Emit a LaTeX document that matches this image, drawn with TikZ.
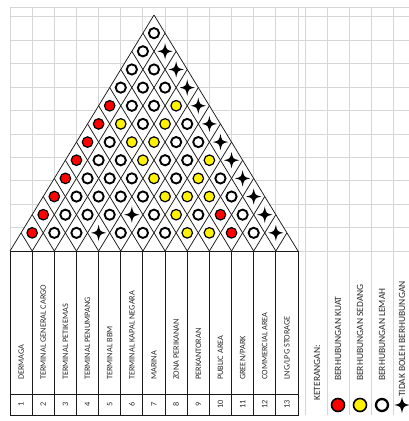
\documentclass[tikz,border=0pt]{standalone}
\usepackage{fontspec}
\setmainfont{Carlito}
\usepackage{xcolor}
\definecolor{cLine}{HTML}{1A1A1A}
\definecolor{cGrid}{HTML}{D6D6D6}
\definecolor{cText}{HTML}{2A2A2A}
\definecolor{cKuat}{HTML}{FF0000}
\definecolor{cSedang}{HTML}{FFF200}
\usepackage{tikz}
\usetikzlibrary{calc}
\tikzset{
  grid-line/.style={draw=cGrid,line width=0.9pt},
  table-line/.style={draw=cLine,line width=0.9pt},
  diag-line/.style={draw=cLine,line width=0.75pt},
  node-label/.style={rotate=90,anchor=west,inner sep=0pt,text=cText,
    font=\fontsize{8.3}{9}\selectfont,text height=5.4pt,text depth=0pt},
  node-legend/.style={node-label,font=\fontsize{9.5}{10}\selectfont,text height=6pt},
  node-num/.style={rotate=90,inner sep=0pt,text=cText,font=\fontsize{8.3}{9}\selectfont},
  % k = kuat, s = sedang, l = lemah, t = tidak boleh
  rel-k/.style={circle,draw=black,line width=1.2pt,fill=cKuat,
    minimum size=10.5pt,inner sep=0pt},
  rel-s/.style={rel-k,fill=cSedang},
  rel-l/.style={rel-k,fill=white,line width=1.9pt,minimum size=10.2pt},
  star4/.style={rectangle,minimum size=22pt,inner sep=0pt,
    path picture={\fill[black,shift={(path picture bounding box.center)},scale=#1]
      (0pt,8.2pt) .. controls (1.4pt,1.4pt) .. (7.6pt,0pt)
      .. controls (1.4pt,-1.4pt) .. (0pt,-8.2pt)
      .. controls (-1.4pt,-1.4pt) .. (-7.6pt,0pt)
      .. controls (-1.4pt,1.4pt) .. cycle;}},
  rel-t/.style={star4=1},
  leg-k/.style={rel-k,minimum size=13pt,line width=1.6pt},
  leg-s/.style={rel-s,minimum size=13pt,line width=1.6pt},
  leg-l/.style={rel-l,minimum size=12pt,line width=2.3pt},
  leg-t/.style={star4=1.2},
}

\begin{document}
\begin{tikzpicture}[x=1pt,y=-1pt]
  \useasboundingbox (0,0) rectangle (409,421);

  % sheet grid
  \draw[grid-line] (10,7.3) -- (409,7.3);
  \foreach \n in {0,...,10}
    \draw[grid-line] (10,{16.7+23.45*\n}) -- (409,{16.7+23.45*\n});
  \foreach \c in {0,...,13}
    \draw[grid-line] ({10+22.154*\c},7.3) -- ({10+22.154*\c},251);
  \foreach \gx in {305,327,349,371.5,393}
    \draw[grid-line] (\gx,7.3) -- (\gx,415);

  % matrix triangle
  \fill[white] (10,251) -- (154,15) -- (298,251) -- cycle;
  \foreach \c in {0,...,12}
    \draw[diag-line] ({10+22.154*\c},251) -- ({10+22.154*(\c+13)/2},{251-18.154*(13-\c)});
  \foreach \c in {1,...,13}
    \draw[diag-line] ({10+22.154*\c},251) -- ({10+22.154*\c/2},{251-18.154*\c});

  \foreach \k/\row in {1/{k,l,l,t,l,l,l,s,s,k,l,t},
                       2/{k,l,l,l,t,l,s,l,k,l,t},
                       3/{k,l,l,l,l,s,s,s,l,t},
                       4/{k,l,l,l,s,l,s,l,t},
                       5/{k,l,l,s,l,l,s,t},
                       6/{k,l,s,s,l,l,t},
                       7/{k,s,l,s,l,t},
                       8/{k,l,l,s,t},
                       9/{l,l,l,t},
                       10/{l,l,t},
                       11/{l,t},
                       12/{l}}
    \foreach \s [count=\i, evaluate=\i as \j using int(\i+\k)] in \row
      \node[rel-\s] (p-\i-\j) at ({10+22.154*(\i-0.5+\k/2)},{251-18.154*\k}) {};

  % table
  \draw[table-line] (10,251) rectangle (298,415);
  \draw[table-line] (10,394) -- (298,394);
  \foreach \c in {1,...,12}
    \draw[table-line] ({10+22.154*\c},251) -- ({10+22.154*\c},415);
  \foreach \name [count=\i] in {DERMAGA,TERMINAL GENERAL CARGO,TERMINAL PETIKEMAS,
      TERMINAL PENUMPANG,TERMINAL BBM,TERMINAL KAPAL NEGARA,MARINA,ZONA PERIKANAN,
      PERKANTORAN,PUBLIC AREA,{GREEN/PARK},COMMERCIAL AREA,{LNG/LPG STORAGE}} {
    \node[node-label] (lab-\i) at ({10+22.154*(\i-0.5)},380) {\name};
    \node[node-num] (num-\i) at ({10+22.154*(\i-0.5)},404.5) {\i};
  }

  % legend
  \node[node-legend] (ket) at (317,401) {KETERANGAN:};
  \node[leg-k] (sym-k) at (338,405) {};
  \node[leg-s] (sym-s) at (360,405) {};
  \node[leg-l] (sym-l) at (382,405) {};
  \node[leg-t] (sym-t) at (402,405) {};
  \node[node-legend] (txt-k) at (338,381) {BERHUBUNGAN KUAT};
  \node[node-legend] (txt-s) at (360,381) {BERHUBUNGAN SEDANG};
  \node[node-legend] (txt-l) at (382,381) {BERHUBUNGAN LEMAH};
  \node[node-legend] (txt-t) at (402,397) {TIDAK BOLEH BERHUBUNGAN};
\end{tikzpicture}
\end{document}
